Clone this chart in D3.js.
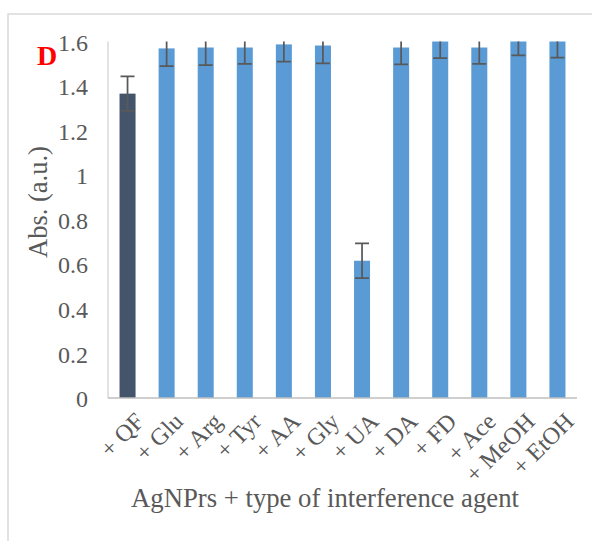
<!DOCTYPE html>
<html>
<head>
<meta charset="utf-8">
<script src="https://cdn.jsdelivr.net/npm/d3@7"></script>
<style>
  html, body { margin: 0; padding: 0; background: #fff; }
  svg { display: block; }
</style>
</head>
<body>
<svg id="chart" width="592" height="541"></svg>
<script>
const categories = ["+ QF", "+ Glu", "+ Arg", "+ Tyr", "+ AA", "+ Gly", "+ UA", "+ DA", "+ FD", "+ Ace", "+ MeOH", "+ EtOH"];
const values = [1.366, 1.569, 1.573, 1.573, 1.587, 1.582, 0.616, 1.573, 1.602, 1.573, 1.615, 1.605];
const errors = [0.077, 0.080, 0.079, 0.073, 0.077, 0.080, 0.078, 0.076, 0.077, 0.073, 0.077, 0.077];
const barColors = ["#44546A", "#5B9BD5", "#5B9BD5", "#5B9BD5", "#5B9BD5", "#5B9BD5", "#5B9BD5", "#5B9BD5", "#5B9BD5", "#5B9BD5", "#5B9BD5", "#5B9BD5"];
const yTicks = [0, 0.2, 0.4, 0.6, 0.8, 1, 1.2, 1.4, 1.6];
const yTickLabels = ["0", "0.2", "0.4", "0.6", "0.8", "1", "1.2", "1.4", "1.6"];
const panelLabel = "D";
const xTitle = "AgNPrs + type of interference agent";
const yTitle = "Abs. (a.u.)";

const svg = d3.select("#chart");
const font = "'Liberation Serif', 'Times New Roman', serif";
const textColor = "#595959";

const plot = { left: 108, right: 577, top: 41.5, bottom: 398 };

// outer chart border
svg.append("rect")
  .attr("x", 8).attr("y", 14)
  .attr("width", 600).attr("height", 560)
  .attr("fill", "none").attr("stroke", "#D9D9D9").attr("stroke-width", 1.5);

const x = d3.scaleBand().domain(categories)
  .range([plot.left, plot.right])
  .paddingInner(0.59).paddingOuter(0.295);
const y = d3.scaleLinear().domain([0, 1.6]).range([plot.bottom, plot.top]);

svg.append("defs").append("clipPath").attr("id", "plotclip")
  .append("rect")
  .attr("x", plot.left).attr("y", plot.top)
  .attr("width", plot.right - plot.left).attr("height", plot.bottom - plot.top);

const g = svg.append("g").attr("clip-path", "url(#plotclip)");

g.selectAll("rect.bar").data(categories).join("rect")
  .attr("class", "bar")
  .attr("x", d => x(d))
  .attr("width", x.bandwidth())
  .attr("y", (d, i) => y(values[i]))
  .attr("height", (d, i) => y(0) - y(values[i]))
  .attr("fill", (d, i) => barColors[i]);

// error bars
const eb = g.selectAll("g.err").data(categories).join("g").attr("class", "err");
const cx = d => x(d) + x.bandwidth() / 2;
eb.append("line")
  .attr("x1", cx).attr("x2", cx)
  .attr("y1", (d, i) => y(values[i] - errors[i]))
  .attr("y2", (d, i) => y(values[i] + errors[i]))
  .attr("stroke", "#595959").attr("stroke-width", 1.75);
[-1, 1].forEach(s => {
  eb.append("line")
    .attr("x1", d => cx(d) - 7).attr("x2", d => cx(d) + 7)
    .attr("y1", (d, i) => y(values[i] + s * errors[i]))
    .attr("y2", (d, i) => y(values[i] + s * errors[i]))
    .attr("stroke", "#595959").attr("stroke-width", 1.75);
});

// axes lines
svg.append("line")
  .attr("x1", plot.left).attr("x2", plot.left)
  .attr("y1", plot.top).attr("y2", plot.bottom)
  .attr("stroke", "#D9D9D9").attr("stroke-width", 1.5);
svg.append("line")
  .attr("x1", plot.left).attr("x2", plot.right)
  .attr("y1", plot.bottom).attr("y2", plot.bottom)
  .attr("stroke", "#BFBFBF").attr("stroke-width", 1.5);

// y tick labels
const yAxis = d3.axisLeft(y).tickValues(yTicks)
  .tickFormat((d, i) => yTickLabels[i]).tickSize(0).tickPadding(20);
const ya = svg.append("g").attr("transform", `translate(${plot.left},0)`).call(yAxis)
  .attr("font-family", font).attr("font-size", 24);
ya.select(".domain").remove();
ya.selectAll("text")
  .style("font-family", font).style("font-size", "24px").attr("fill", textColor)
  .attr("dy", "0.36em");

// x tick labels
svg.append("g").selectAll("text").data(categories).join("text")
  .attr("transform", d => `translate(${cx(d) + 6},${plot.bottom + 13}) rotate(-45)`)
  .attr("text-anchor", "end")
  .attr("dy", "0.7em")
  .style("font-family", font).style("font-size", "24px").attr("fill", textColor)
  .text(d => d);

// axis titles
svg.append("text")
  .attr("x", 325).attr("y", 507)
  .attr("text-anchor", "middle")
  .style("font-family", font).style("font-size", "26.7px").attr("fill", textColor)
  .text(xTitle);
svg.append("text")
  .attr("transform", "translate(47,202) rotate(-90)")
  .attr("text-anchor", "middle")
  .style("font-family", font).style("font-size", "26.5px").attr("fill", textColor)
  .text(yTitle);

// panel label
svg.append("text")
  .attr("x", 37).attr("y", 65)
  .style("font-family", font).style("font-size", "28px").attr("font-weight", "bold")
  .attr("fill", "#FF0000")
  .text(panelLabel);
</script>
</body>
</html>
